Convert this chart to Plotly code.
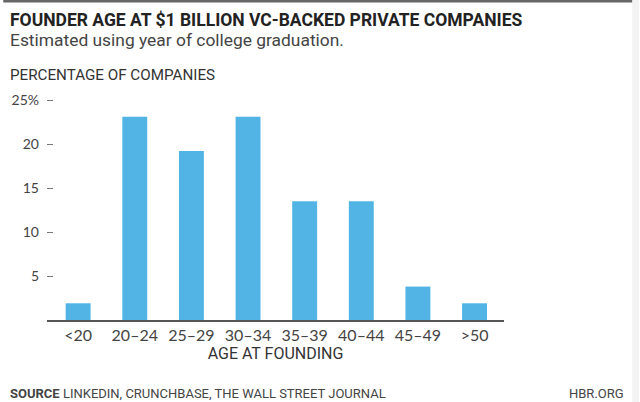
import plotly.graph_objects as go

categories = ["<20", "20–24", "25–29", "30–34", "35–39", "40–44", "45–49", ">50"]
values = [1.9, 23.1, 19.2, 23.1, 13.5, 13.5, 3.8, 1.9]
y_ticks = [5, 10, 15, 20, 25]
y_ticktext = ["5", "10", "15", "20", "25%"]

W, H = 640, 402
L, R, T, B = 44, 136, 98, 82
PW = W - L - R
PH = H - T - B

def px(x):
    return (x - L) / PW

def py(y):
    return (H - B - y) / PH

fig = go.Figure()
fig.add_trace(go.Bar(
    x=list(range(len(categories))), y=values,
    marker=dict(color="#52b4e4", line=dict(width=0)),
    width=0.44, hoverinfo="skip",
))

fig.update_layout(
    width=W, height=H,
    margin=dict(l=L, r=R, t=T, b=B),
    paper_bgcolor="white", plot_bgcolor="white",
    showlegend=False,
    font=dict(family="Lato", color="#444"),
    xaxis=dict(
        tickmode="array", tickvals=list(range(len(categories))), ticktext=categories,
        range=[-0.55, 7.52], showgrid=False, zeroline=False,
        showline=True, linecolor="#555", linewidth=2, ticks="",
        tickfont=dict(family="Lato", size=16, color="#444"),
        title=dict(text="AGE AT FOUNDING", font=dict(family="Roboto", size=16, color="#333"), standoff=4),
        fixedrange=True,
    ),
    yaxis=dict(
        tickmode="array", tickvals=y_ticks, ticktext=y_ticktext,
        range=[0, 25.23], showgrid=False, zeroline=False, showline=False,
        ticks="inside", ticklen=6, tickcolor="#777", tickwidth=1,
        tickfont=dict(family="Lato", size=14, color="#444"),
        ticklabelstandoff=7,
        fixedrange=True,
    ),
)

annots = [
    dict(text="<b>FOUNDER AGE AT $1 BILLION VC-BACKED PRIVATE COMPANIES</b>", x=px(5), y=py(20),
         font=dict(family="Roboto", size=17.5, color="#222")),
    dict(text="Estimated using year of college graduation.", x=px(5), y=py(40),
         font=dict(family="Roboto", size=17.4, color="#444")),
    dict(text="PERCENTAGE OF COMPANIES", x=px(5), y=py(75),
         font=dict(family="Roboto", size=15.2, color="#333")),
    dict(text="<b>SOURCE</b> LINKEDIN, CRUNCHBASE, THE WALL STREET JOURNAL", x=px(5), y=py(393),
         font=dict(family="Roboto", size=13, color="#444")),
]
for a in annots:
    fig.add_annotation(xref="paper", yref="paper", xanchor="left", yanchor="middle",
                       showarrow=False, **a)
fig.add_annotation(text="HBR.ORG", xref="paper", yref="paper", x=px(627), y=py(393),
                   xanchor="right", yanchor="middle", showarrow=False,
                   font=dict(family="Roboto", size=13, color="#444"))

fig.add_shape(type="line", xref="paper", yref="paper", x0=px(0), x1=px(633), y0=py(1), y1=py(1),
              line=dict(color="#666", width=3))
fig.add_shape(type="rect", xref="paper", yref="paper", x0=px(633), x1=px(640), y0=py(0), y1=py(402),
              fillcolor="#f3f3f3", line=dict(width=0), layer="below")

fig.write_html("out.html", config={"displayModeBar": False},
               post_script="document.body.style.margin='0';document.body.style.padding='0';")
